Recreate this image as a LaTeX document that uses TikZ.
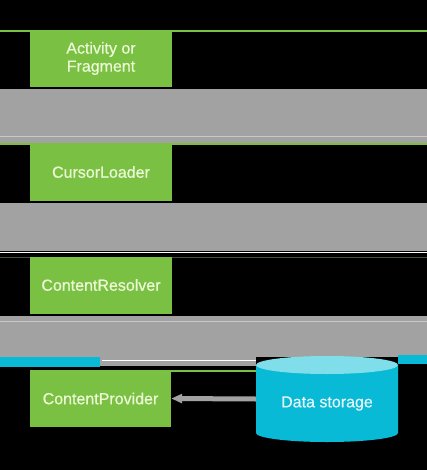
\documentclass[tikz,border=0pt]{standalone}
\usepackage{fontspec}
\setmainfont{Liberation Sans}[FakeBold=0.6]
\newfontfamily\medfont{Liberation Sans}[FakeBold=0.6,UprightFeatures={FakeBold=0.6}]
\usetikzlibrary{arrows.meta}
\definecolor{boxgreen}{RGB}{122,193,67}
\definecolor{bandgray}{RGB}{162,162,162}
\definecolor{lightline}{RGB}{200,200,200}
\definecolor{cyanbody}{RGB}{8,186,214}
\definecolor{cyantop}{RGB}{128,222,234}
\definecolor{greentext}{RGB}{236,248,214}
\definecolor{cyantext}{RGB}{226,246,250}
\definecolor{dimline}{RGB}{70,82,62}
\tikzset{
  stepbox/.style={fill=boxgreen, minimum width=142pt, minimum height=57pt,
    inner sep=0pt, text=greentext, align=center,
    font=\medfont\fontsize{16}{18}\selectfont},
  band/.style={fill=bandgray},
  arr/.style={draw=bandgray, line width=5pt, -{Triangle[width=9pt,length=11pt]}},
}
\begin{document}
\begin{tikzpicture}[x=1pt,y=-1pt]
\useasboundingbox (0,0) rectangle (427,470);
\fill[black] (0,0) rectangle (427,470);
% top green line
\fill[boxgreen] (0,30) rectangle (427,32);
% band 1
\fill[band] (0,89) rectangle (427,143);
\fill[lightline] (0,136) rectangle (427,137);
\fill[boxgreen] (0,143) rectangle (427,145);
% band 2
\fill[band] (0,203) rectangle (427,251);
\fill[white] (0,251.5) rectangle (427,252.5);
\fill[dimline] (0,257) rectangle (427,258);
% band 3
\fill[band] (0,316) rectangle (427,357);
\fill[lightline] (0,321) rectangle (427,322);
\fill[cyanbody] (0,357) rectangle (100,367);
\fill[band] (100,357) rectangle (256,366);
\fill[white] (102,359.5) rectangle (256,360.5);
\fill[cyanbody] (398,355) rectangle (427,364);
\fill[boxgreen] (171,370) rectangle (256,372);
% boxes
\node[stepbox] (act) at (101,58.5) {Activity or\\Fragment};
\node[stepbox] (cl) at (101,172) {CursorLoader};
\node[stepbox] (cr) at (101,285) {ContentResolver};
\node[stepbox, minimum width=141pt] (cp) at (100.5,398.5) {ContentProvider};
% cylinder
\node[minimum width=142pt, minimum height=86pt, inner sep=0pt] (dstore) at (327,399) {};
\fill[cyanbody] (256,365) -- (256,433) arc[start angle=180, end angle=360, x radius=71pt, y radius=9pt] -- (398,365) -- cycle;
\fill[cyantop] (327,365) ellipse [x radius=71pt, y radius=9pt];
\node[text=cyantext, font=\medfont\fontsize{16}{18}\selectfont] (dslabel) at (327,403.5) {Data storage};
% arrow
\draw[arr] (dstore.west) -- (cp.east);
\end{tikzpicture}
\end{document}
